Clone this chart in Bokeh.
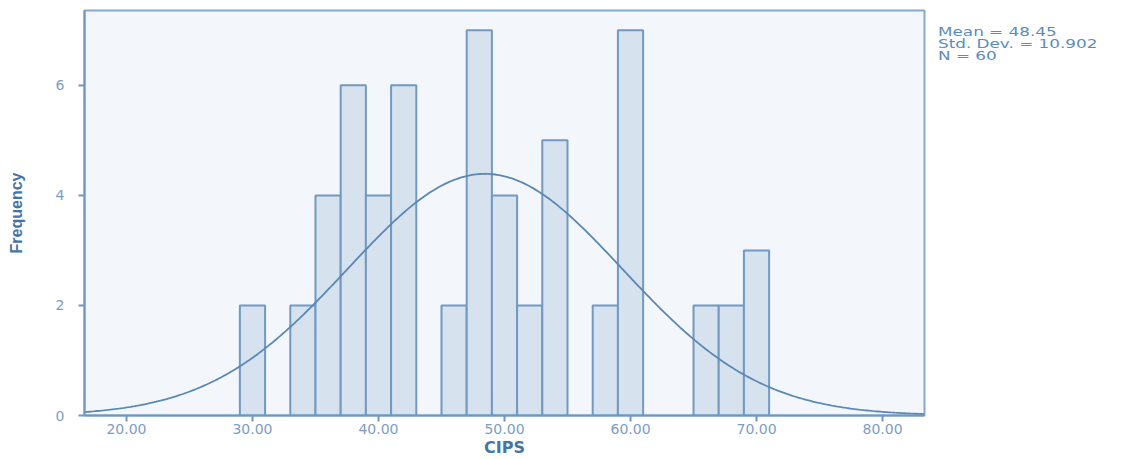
import numpy as np
from bokeh.plotting import figure
from bokeh.layouts import row
from bokeh.models import Range1d, FixedTicker, Div, CustomJSTickFormatter
from bokeh.embed import file_html
from bokeh.resources import INLINE

# Histogram data (bin centers, bin width 2)
bin_centers = [30, 34, 36, 38, 40, 42, 46, 48, 50, 52, 54, 58, 60, 66, 68, 70]
counts = [2, 2, 4, 6, 4, 6, 2, 7, 4, 2, 5, 2, 7, 2, 2, 3]
bin_width = 2.0

# Summary statistics
mean = 48.45
std_dev = 10.902
n_obs = 60

x_ticks = [20, 30, 40, 50, 60, 70, 80]
y_ticks = [0, 2, 4, 6]

fill_col = "#d6e2ee"
edge_col = "#7199c2"
curve_col = "#5a87b6"
tick_col = "#7b9dc4"
title_col = "#4574a8"
bg_col = "#f3f6fa"

p = figure(width=928, height=459, output_backend="svg", toolbar_location=None,
           x_range=Range1d(16.67, 83.33), y_range=Range1d(0, 7.36),
           min_border_left=84, min_border_right=4, min_border_top=10, min_border_bottom=43)

p.background_fill_color = bg_col
p.border_fill_color = "white"
p.outline_line_color = "#86a9cd"
p.outline_line_width = 2
p.xgrid.visible = False
p.ygrid.visible = False

p.vbar(x=bin_centers, top=counts, width=bin_width, bottom=0,
       fill_color=fill_col, line_color=edge_col, line_width=2)

xs = np.linspace(16.67, 83.33, 400)
ys = n_obs * bin_width / (std_dev * np.sqrt(2 * np.pi)) * np.exp(-0.5 * ((xs - mean) / std_dev) ** 2)
p.line(xs, ys, line_color=curve_col, line_width=1.8)

# Axes styling
p.xaxis.ticker = FixedTicker(ticks=x_ticks)
p.xaxis.formatter = CustomJSTickFormatter(code="return tick.toFixed(2);")
p.yaxis.ticker = FixedTicker(ticks=y_ticks)
for ax in (p.xaxis[0], p.yaxis[0]):
    ax.axis_line_color = "#6f97c1"
    ax.axis_line_width = 2
    ax.major_tick_line_color = "#6f97c1"
    ax.major_tick_line_width = 2
    ax.major_tick_in = 0
    ax.major_tick_out = 6
    ax.minor_tick_line_color = None
    ax.major_label_text_color = tick_col
    ax.major_label_text_font = "DejaVu Sans"
    ax.major_label_text_font_size = "14px"
    ax.axis_label_text_color = title_col
    ax.axis_label_text_font_style = "bold"

p.xaxis.major_label_standoff = 2
p.xaxis.axis_label = "CIPS"
p.xaxis.axis_label_text_font = "DejaVu Sans"
p.xaxis.axis_label_text_font_size = "16px"
p.xaxis.axis_label_standoff = 1

p.yaxis.major_label_standoff = 14
p.yaxis.axis_label = "Frequency"
p.yaxis.axis_label_text_font = "Liberation Sans"
p.yaxis.axis_label_text_font_size = "16px"
p.yaxis.axis_label_standoff = 28

stats_lines = ["Mean = %.2f" % mean, "Std. Dev. = %.3f" % std_dev, "N = %d" % n_obs]
inner = "<div style='transform: scaleX(1.4); transform-origin: left top; white-space: nowrap;'>" + \
        "<br>".join(stats_lines) + "</div>"
stats = Div(text=inner, width=183, height=60,
            styles={"color": "#5b8bc0", "font-family": "DejaVu Sans", "font-size": "12px",
                    "line-height": "12px", "padding-left": "5px", "margin-top": "26px"})

layout = row(p, stats)
open("out.html", "w").write(file_html(layout, INLINE))
